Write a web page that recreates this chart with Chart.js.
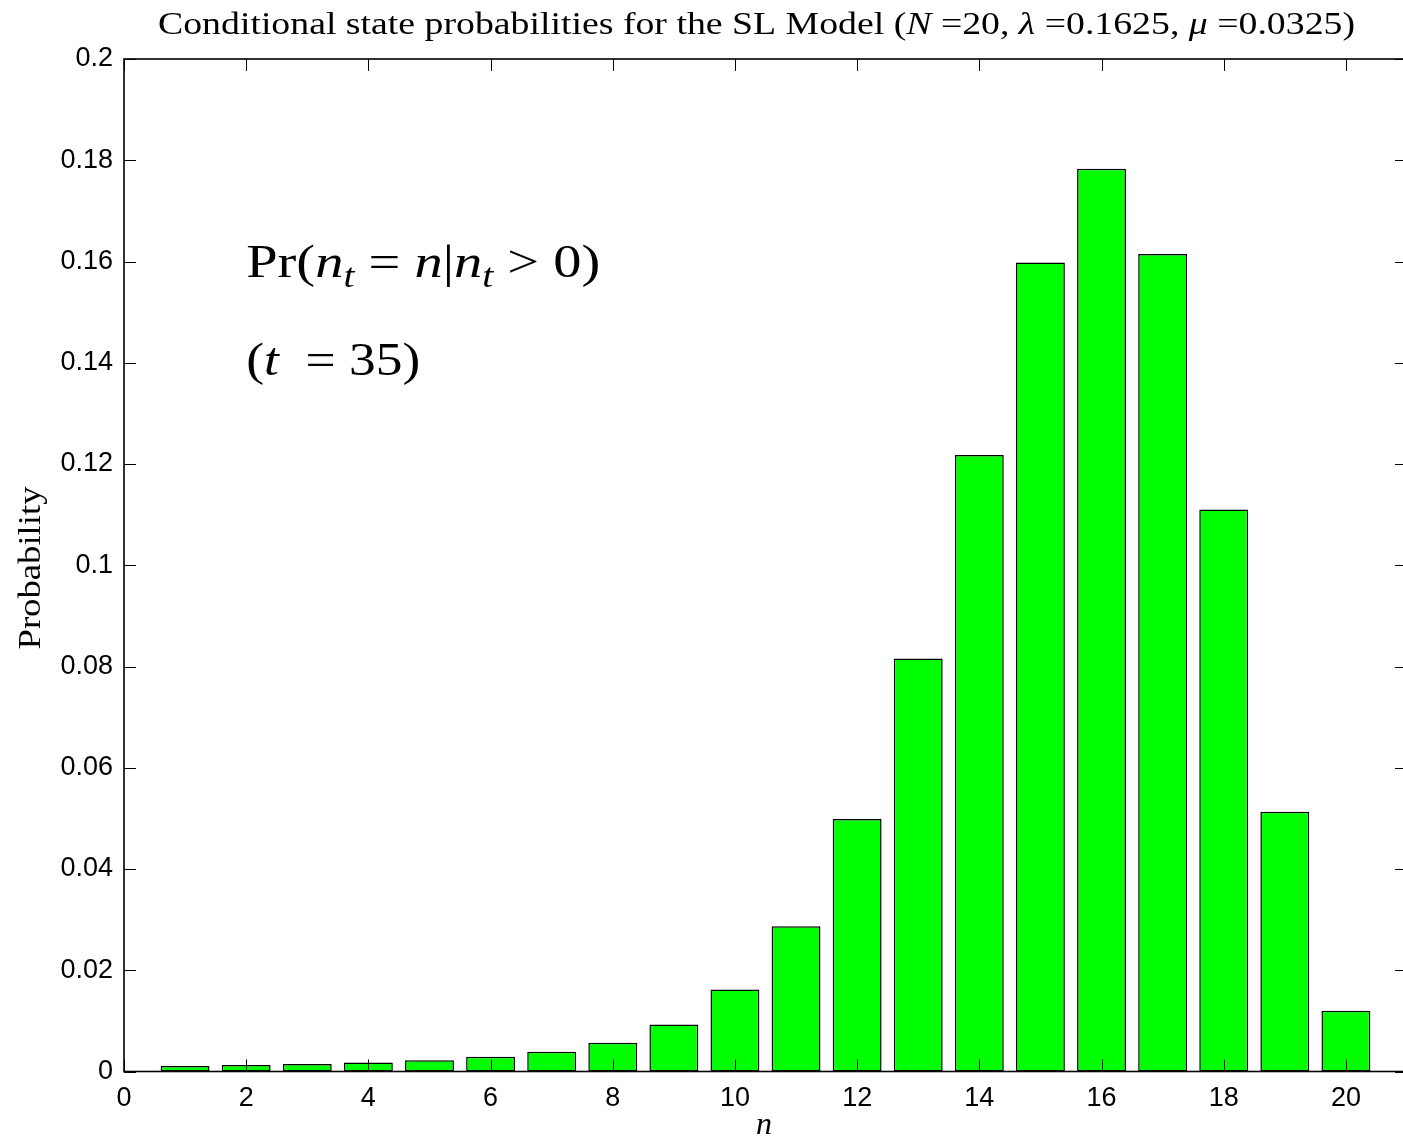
<!DOCTYPE html>
<html>
<head>
<meta charset="utf-8">
<script src="https://cdn.jsdelivr.net/npm/chart.js@4/dist/chart.umd.min.js"></script>
<style>
  html, body { margin: 0; padding: 0; background: #fff; overflow: hidden; }
  #wrap { position: relative; width: 1407px; height: 1137px; }
</style>
</head>
<body>
<div id="wrap"><canvas id="c"></canvas></div>
<script>
// Population sizes n and conditional probabilities Pr(n_t = n | n_t > 0) at t = 35
const states = [1, 2, 3, 4, 5, 6, 7, 8, 9, 10, 11, 12, 13, 14, 15, 16, 17, 18, 19, 20];
const probabilities = [
  0.0011, 0.0013, 0.0015, 0.0018, 0.0022, 0.0029, 0.0039, 0.0057, 0.0093, 0.0162,
  0.0287, 0.0499, 0.0816, 0.1218, 0.1598, 0.1783, 0.1615, 0.1110, 0.0513, 0.0120
];
const xTicks = [0, 2, 4, 6, 8, 10, 12, 14, 16, 18, 20];
const yTicks = [0, 0.02, 0.04, 0.06, 0.08, 0.1, 0.12, 0.14, 0.16, 0.18, 0.2];

const SERIF = '"Liberation Serif", "DejaVu Serif", serif';
const SANS = '"Liberation Sans", Arial, sans-serif';

// Draws a run of mixed roman/italic/subscript pieces, optionally stretched to a given width
function drawRich(ctx, parts, x, y, size, align, targetWidth) {
  const fontOf = p => (p[1] ? 'italic ' : '') + (p[2] ? size * 0.7 : size) + 'px ' + SERIF;
  let w = 0;
  const widths = parts.map(p => { ctx.font = fontOf(p); const m = ctx.measureText(p[0]).width; w += m; return m; });
  const sx = targetWidth ? targetWidth / w : 1;
  ctx.save();
  ctx.translate(x, y);
  ctx.scale(sx, 1);
  ctx.fillStyle = '#000';
  ctx.textBaseline = 'alphabetic';
  ctx.textAlign = 'left';
  let cx = align === 'center' ? -w / 2 : 0;
  parts.forEach((p, i) => {
    ctx.font = fontOf(p);
    ctx.fillText(p[0], cx, p[2] ? size * 0.22 : 0);
    cx += widths[i];
  });
  ctx.restore();
}

const framePlugin = {
  id: 'frame',
  afterDatasetsDraw(chart) {
    const { ctx, chartArea: a, scales: { x, y } } = chart;
    const len = 12;
    ctx.save();
    ctx.strokeStyle = '#000';
    ctx.lineWidth = 1;
    ctx.beginPath();
    xTicks.forEach(v => {
      const px = Math.round(x.getPixelForValue(v)) + 0.5;
      ctx.moveTo(px, a.bottom); ctx.lineTo(px, a.bottom - len);
      ctx.moveTo(px, a.top); ctx.lineTo(px, a.top + len);
    });
    yTicks.forEach(v => {
      const py = Math.round(y.getPixelForValue(v)) + 0.5;
      ctx.moveTo(a.left, py); ctx.lineTo(a.left + len, py);
      ctx.moveTo(a.right, py); ctx.lineTo(a.right - len, py);
    });
    ctx.stroke();
    ctx.lineWidth = 1.6;
    ctx.strokeRect(a.left, a.top, a.right - a.left, a.bottom - a.top);
    ctx.restore();
  },
  afterDraw(chart) {
    const { ctx, scales: { x, y } } = chart;
    // Title
    drawRich(ctx, [
      ['Conditional state probabilities for the SL Model (', 0],
      ['N', 1], [' =20, ', 0], ['\u03BB', 1], [' =0.1625, ', 0], ['\u03BC', 1], [' =0.0325)', 0]
    ], 756.5, 34, 32, 'center', 1197);
    // In-plot annotation
    drawRich(ctx, [
      ['Pr(', 0], ['n', 1], ['t', 1, 1], [' = ', 0], ['n', 1], ['|', 0], ['n', 1], ['t', 1, 1], [' > 0)', 0]
    ], x.getPixelForValue(2), y.getPixelForValue(0.157), 47, 'left', 354);
    drawRich(ctx, [
      ['(', 0], ['t', 1], ['  = 35)', 0]
    ], x.getPixelForValue(2), y.getPixelForValue(0.1376), 47, 'left', 174);
    // Axis titles
    drawRich(ctx, [['n', 1]], 764, 1134, 32, 'center');
    ctx.save();
    ctx.translate(40, 568);
    ctx.rotate(-Math.PI / 2);
    drawRich(ctx, [['Probability', 0]], 0, 0, 31, 'center', 163);
    ctx.restore();
  }
};

new Chart(document.getElementById('c'), {
  type: 'bar',
  data: {
    datasets: [{
      data: states.map((n, i) => ({ x: n, y: probabilities[i] })),
      backgroundColor: '#00ff00',
      borderColor: '#000000',
      borderWidth: 1.5,
      borderSkipped: false,
      barPercentage: 0.8,
      categoryPercentage: 1.0
    }]
  },
  options: {
    responsive: true,
    maintainAspectRatio: false,
    animation: false,
    events: [],
    layout: { padding: { top: 59, left: 0, right: 0, bottom: 0 } },
    plugins: { legend: { display: false }, tooltip: { enabled: false }, title: { display: false } },
    scales: {
      x: {
        type: 'linear',
        min: 0,
        max: 21,
        offset: false,
        grid: { display: false, drawTicks: false },
        border: { display: false },
        afterBuildTicks: s => { s.ticks = xTicks.map(v => ({ value: v })); },
        ticks: {
          color: '#000',
          font: { family: SANS, size: 27 },
          padding: 11,
          maxRotation: 0,
          autoSkip: false,
          callback: v => String(v)
        },
        afterFit: s => { s.height = 65.5; }
      },
      y: {
        type: 'linear',
        min: 0,
        max: 0.2,
        grid: { display: false, drawTicks: false },
        border: { display: false },
        afterBuildTicks: s => { s.ticks = yTicks.map(v => ({ value: v })); },
        ticks: {
          color: '#000',
          font: { family: SANS, size: 27 },
          padding: 11,
          autoSkip: false,
          callback: v => String(+Number(v).toFixed(2))
        },
        afterFit: s => { s.width = 124; }
      }
    }
  },
  plugins: [framePlugin]
});
</script>
</body>
</html>
